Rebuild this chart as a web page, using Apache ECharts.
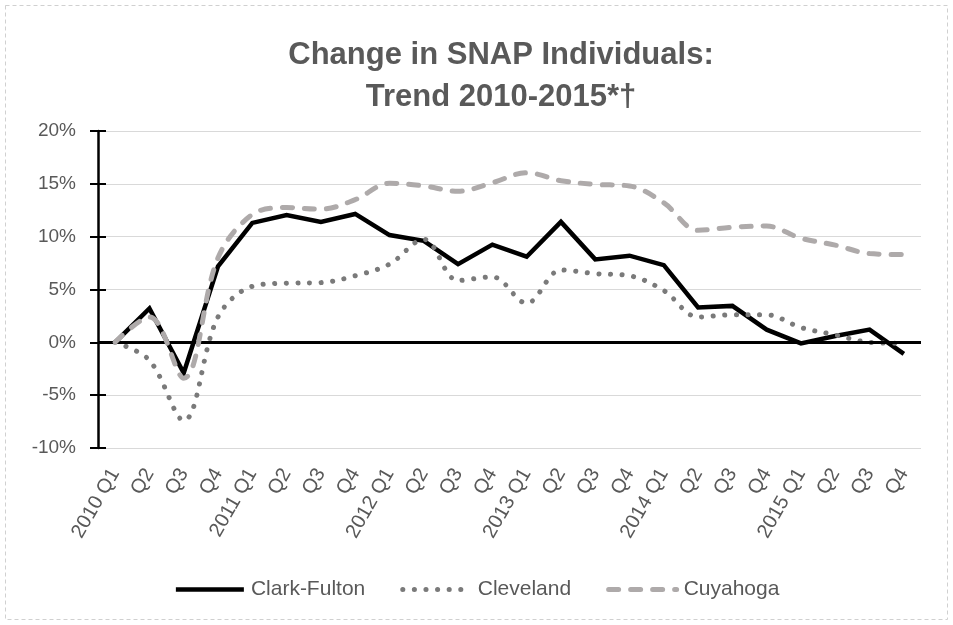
<!DOCTYPE html>
<html>
<head>
<meta charset="utf-8">
<script src="https://cdn.jsdelivr.net/npm/echarts@6/dist/echarts.min.js"></script>
<style>
html,body{margin:0;padding:0;background:#fff;}
#chart{width:953px;height:625px;}
</style>
</head>
<body>
<div id="chart"></div>
<script>
var categories = ['2010 Q1','Q2','Q3','Q4','2011 Q1','Q2','Q3','Q4','2012 Q1','Q2','Q3','Q4',
                  '2013 Q1','Q2','Q3','Q4','2014 Q1','Q2','Q3','Q4','2015 Q1','Q2','Q3','Q4'];
var clarkFulton = [0, 3.2, -2.9, 7.2, 11.3, 12.05, 11.4, 12.15, 10.15, 9.6, 7.4, 9.25,
                   8.1, 11.4, 7.85, 8.2, 7.3, 3.3, 3.45, 1.2, -0.1, 0.6, 1.2, -1.1];
var cleveland = [0, -1.7, -7.4, 2.4, 5.3, 5.6, 5.65, 6.3, 7.4, 9.75, 5.85, 6.2,
                 3.7, 6.85, 6.5, 6.3, 4.9, 2.4, 2.6, 2.6, 1.4, 0.7, 0.0, -0.1];
var cuyahoga = [0, 2.4, -3.4, 8.0, 12.1, 12.75, 12.6, 13.5, 15.05, 14.8, 14.3, 15.1,
                16.05, 15.3, 14.95, 14.8, 13.2, 10.6, 10.9, 11.0, 9.85, 9.2, 8.4, 8.3];
var seriesNames = ['Clark-Fulton', 'Cleveland', 'Cuyahoga'];
var titleLines = 'Change in SNAP Individuals:\nTrend 2010-2015*\u2020';

var FONT = '"Liberation Sans", Arial, sans-serif';
var chart = echarts.init(document.getElementById('chart'));
chart.setOption({
  animation: false,
  backgroundColor: '#fff',
  title: {
    text: titleLines,
    left: 496,
    textAlign: 'center',
    top: 29,
    textStyle: {fontFamily: FONT, fontSize: 31, fontWeight: 'bold', color: '#595959', lineHeight: 42}
  },
  graphic: [{
    type: 'rect', silent: true,
    shape: {x: 5.5, y: 5.5, width: 942, height: 614},
    style: {fill: 'none', stroke: '#d0d0d0', lineWidth: 1, lineDash: [4, 3]}
  }],
  legend: {
    bottom: 20,
    left: 'center',
    itemWidth: 68,
    itemHeight: 10,
    itemGap: 35,
    itemStyle: {opacity: 0},
    lineStyle: {width: 'inherit'},
    textStyle: {fontFamily: FONT, fontSize: 21, color: '#595959', padding: [0, 0, 0, 2]},
    data: seriesNames
  },
  grid: {left: 98, right: 32, top: 131, bottom: 177, containLabel: false},
  xAxis: {
    type: 'category',
    data: categories,
    boundaryGap: true,
    axisLine: {show: false},
    axisTick: {show: false},
    splitLine: {show: false},
    axisLabel: {rotate: 60, margin: 22, fontFamily: FONT, fontSize: 20, color: '#595959', interval: 0}
  },
  yAxis: [{
    type: 'value', min: -10, max: 20, interval: 5,
    axisLine: {show: true, lineStyle: {color: '#000', width: 2.5}},
    axisTick: {show: true, length: 8, lineStyle: {color: '#000', width: 2}},
    axisLabel: {formatter: '{value}%', margin: 22, fontFamily: FONT, fontSize: 19, color: '#595959'},
    splitLine: {show: true, lineStyle: {color: '#d9d9d9', width: 1.2}}
  }, {
    type: 'value', min: -10, max: 20, interval: 5, position: 'left',
    axisLine: {show: false},
    axisTick: {show: true, inside: true, length: 8, lineStyle: {color: '#000', width: 2}},
    axisLabel: {show: false},
    splitLine: {show: false}
  }],
  series: [{
    name: seriesNames[0], type: 'line', data: clarkFulton,
    symbol: 'none', color: '#000',
    lineStyle: {color: '#000', width: 4.5, join: 'miter'},
    markLine: {
      silent: true, symbol: 'none', label: {show: false},
      lineStyle: {color: '#000', width: 3, type: 'solid'},
      data: [{yAxis: 0}]
    },
    z: 3
  }, {
    name: seriesNames[1], type: 'line', data: cleveland,
    symbol: 'none', smooth: 0.35, color: '#7a7a7a',
    lineStyle: {color: '#7a7a7a', width: 5, type: [0.1, 11.5], cap: 'round'},
    z: 4
  }, {
    name: seriesNames[2], type: 'line', data: cuyahoga,
    symbol: 'none', smooth: 0.35, color: '#aeaaaa',
    lineStyle: {color: '#aeaaaa', width: 5, type: [10, 12], cap: 'round'},
    z: 5
  }]
});
</script>
</body>
</html>
